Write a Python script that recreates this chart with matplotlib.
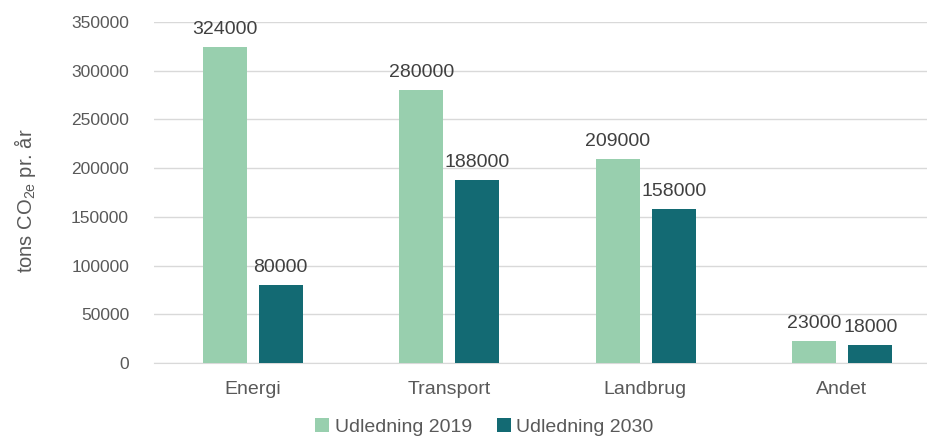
import matplotlib.pyplot as plt
import numpy as np

plt.rcParams['font.family'] = ['Liberation Sans', 'DejaVu Sans']

# Data
categories = ["Energi", "Transport", "Landbrug", "Andet"]
udledning_2019 = [324000, 280000, 209000, 23000]
udledning_2030 = [80000, 188000, 158000, 18000]
series_names = ["Udledning 2019", "Udledning 2030"]

green = "#98CFAE"
teal = "#136A73"
text_col = "#404040"
tick_col = "#595959"

fig = plt.figure(figsize=(9.28, 4.36), dpi=100)
ax = fig.add_axes([0.166, 0.1674, 0.847, 0.782])

x = np.arange(len(categories))
w = 0.224
b1 = ax.bar(x - 0.14, udledning_2019, w, color=green, label=series_names[0], zorder=3)
b2 = ax.bar(x + 0.145, udledning_2030, w, color=teal, label=series_names[1], zorder=3)

for bars in (b1, b2):
    for rect in bars:
        h = rect.get_height()
        ax.annotate(f"{int(h)}", (rect.get_x() + rect.get_width() / 2, h),
                    xytext=(0, 6.5), textcoords="offset points",
                    ha="center", va="bottom", fontsize=14, color=text_col)

ax.set_xlim(-0.5, 3.5)
ax.set_ylim(0, 350000)
ax.set_yticks(np.arange(0, 350001, 50000))
ax.set_xticks(x)
ax.set_xticklabels(categories)
ax.tick_params(axis="both", length=0, labelcolor=tick_col)
ax.tick_params(axis="y", labelsize=12.5, pad=18)
ax.tick_params(axis="x", labelsize=14, pad=13)

ax.grid(axis="y", color="#d9d9d9", linewidth=1, zorder=0)
for s in ["top", "right", "left"]:
    ax.spines[s].set_visible(False)
ax.spines["bottom"].set_color("#d9d9d9")

fig.text(0.027, 0.54, r"tons CO$_{\mathregular{2e}}$ pr. år", rotation=90,
         ha="center", va="center", fontsize=14.5, color=tick_col)

fig.legend(handles=[b1, b2], loc="center", bbox_to_anchor=(0.522, 0.02),
           ncol=2, frameon=False, fontsize=14, handlelength=0.7, handleheight=0.7,
           handletextpad=0.3, columnspacing=1.3, labelcolor=tick_col)

fig.savefig("out.png", dpi=100)
